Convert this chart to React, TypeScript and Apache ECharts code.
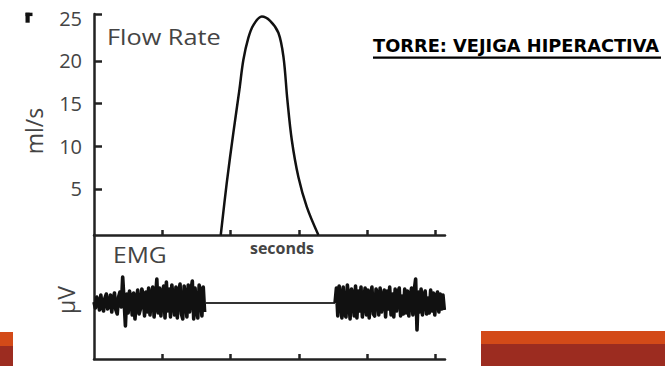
import React, { useEffect, useRef } from "react";
import * as echarts from "echarts";

// Flow rate curve (time in tick units, value in ml/s)
const flowTime = [1.856, 1.944, 2.041, 2.129, 2.187, 2.26, 2.334, 2.457, 2.579, 2.7, 2.774, 2.832, 2.897, 2.993, 3.116, 3.286];
const flowRate = [-0.4, 5.7, 11.6, 16.6, 20.1, 22.7, 24.2, 25.2, 24.7, 23.3, 20.5, 15.4, 10.7, 6.4, 2.9, -0.4];

const flowTickLabels = [5, 10, 15, 20, 25];
const timeTicks = [1, 2, 3, 4, 5];

// EMG samples (µV, relative to baseline), regular sampling
const emgStep = 0.02;
const emgStart1 = 0;
const emgBurst1 = [
  1, -5, 6, 2, -7, 8, -3, -8, 5, 9, -6,
  -2, 8, -9, 4, 10, -7, -11, 6, 11, -4,
  26, 3, -23, 9, -10, 12, 5, -12, 10, -16,
  2, 13, -11, -6, 14, 8, -13, 11, -9, 15,
  -12, 6, 16, -14, 4, 24, -10, 15, -13, 9,
  17, -15, 21, -8, 14, -14, 18, 3, -12, 16,
  -15, 10, 19, -11, -16, 17, 7, -14, 18, -9,
  13, 22, -16, 15, -7, -15, 18, 11, -13, 16, -9,
];
const emgStart2 = 3.53;
const emgBurst2 = [
  0, 15, -13, 17, 6, -15, 16, -11, -14, 18, 4,
  -16, 14, 9, -13, 17, -15, 12, -8, 16, -14,
  3, 15, -12, 13, -15, 8, 16, -11, -13, 14,
  10, -12, 15, -9, 5, 13, -14, 12, -6, 16,
  -12, 9, -14, 14, -8, 11, 15, -13, 7, -11,
  14, -10, 12, -13, 6, 15, -12, 13, 24, -27, 11,
  -9, 14, -12, 8, 12, -11, 5, -10, 13, -8,
  10, -12, 7, 11, -9, 9, -6, 8, -7,
];
const emgQuietTime = [1.64, 3.53];
const emgQuietValue = [0, 0];

const AX = "#222";
const TXT = "#444";

export default function App() {
  const ref = useRef<HTMLDivElement>(null);
  useEffect(() => {
    if (!ref.current) return;
    const chart = echarts.init(ref.current, undefined, { renderer: "svg" });
    const flowData = flowTime.map((t, i) => [t, flowRate[i]]);
    const b1 = emgBurst1.map((v, i) => [emgStart1 + i * emgStep, v]);
    const b2 = emgBurst2.map((v, i) => [emgStart2 + i * emgStep, v]);
    const quiet = emgQuietTime.map((t, i) => [t, emgQuietValue[i]]);
    const xAxisBase = (gi: number) => ({
      type: "value",
      gridIndex: gi,
      min: 0,
      max: 5.14,
      axisLine: { show: true, onZero: false, lineStyle: { color: AX, width: 2.5 } },
      axisTick: { show: true, inside: true, length: 5, customValues: timeTicks, lineStyle: { color: AX, width: 2.5 } },
      axisLabel: { show: false },
      splitLine: { show: false },
    });
    chart.setOption({
      animation: false,
      backgroundColor: "#fff",
      grid: [
        { left: 94, top: 14, width: 351, height: 221 },
        { left: 94, top: 235, width: 351, height: 124 },
      ],
      xAxis: [xAxisBase(0), xAxisBase(1)],
      yAxis: [
        {
          type: "value",
          gridIndex: 0,
          min: -0.4,
          max: 25.5,
          axisLine: { show: true, onZero: false, lineStyle: { color: AX, width: 2.5 } },
          axisTick: { show: true, inside: true, length: 8, customValues: [5, 10, 15, 20, 25.5], lineStyle: { color: AX, width: 2.5 } },
          axisLabel: { customValues: flowTickLabels, color: TXT, fontSize: 20, fontFamily: "Open Sans", margin: 12 },
          splitLine: { show: false },
        },
        {
          type: "value",
          gridIndex: 1,
          min: -56,
          max: 68,
          axisLine: { show: true, onZero: false, lineStyle: { color: AX, width: 2.5 } },
          axisTick: { show: false },
          axisLabel: { show: false },
          splitLine: { show: false },
        },
      ],
      series: [
        {
          type: "line",
          name: "Flow Rate",
          xAxisIndex: 0,
          yAxisIndex: 0,
          data: flowData,
          smooth: 0.35,
          symbol: "none",
          lineStyle: { color: "#111", width: 2.5 },
        },
        {
          type: "line",
          name: "EMG",
          xAxisIndex: 1,
          yAxisIndex: 1,
          data: b1,
          symbol: "none",
          lineStyle: { color: "#111", width: 3.6, join: "round" },
        },
        {
          type: "line",
          name: "EMG quiet",
          xAxisIndex: 1,
          yAxisIndex: 1,
          data: quiet,
          symbol: "none",
          lineStyle: { color: "#333", width: 1.8 },
        },
        {
          type: "line",
          name: "EMG 2",
          xAxisIndex: 1,
          yAxisIndex: 1,
          data: b2,
          symbol: "none",
          lineStyle: { color: "#111", width: 3.6, join: "round" },
        },
      ],
      graphic: [
        { type: "rect", shape: { x: 25.5, y: 12.7, width: 4.2, height: 10 }, style: { fill: "#111" } },
        { type: "rect", shape: { x: 25.5, y: 12.7, width: 7, height: 3.4 }, style: { fill: "#111" } },
        { type: "text", x: 107, y: 37, scaleX: 1.15, style: { text: "Flow Rate", fontSize: 22, fontFamily: "Open Sans", fill: TXT, verticalAlign: "middle" } },
        { type: "text", x: 113, y: 255, scaleX: 1.12, style: { text: "EMG", fontSize: 22, fontFamily: "Open Sans", fill: TXT, verticalAlign: "middle" } },
        { type: "text", x: 282, y: 248, style: { text: "seconds", fontSize: 16, fontWeight: "bold", fontFamily: "Open Sans", fill: TXT, align: "center", verticalAlign: "middle" } },
        { type: "text", x: 33.5, y: 131, rotation: Math.PI / 2, style: { text: "ml/s", fontSize: 23, fontFamily: "Open Sans", fill: TXT, align: "center", verticalAlign: "middle" } },
        { type: "text", x: 66, y: 300, rotation: Math.PI / 2, style: { text: "µV", fontSize: 23, fontFamily: "Open Sans", fill: TXT, align: "center", verticalAlign: "middle" } },
        { type: "text", x: 373, y: 45, style: { text: "TORRE: VEJIGA HIPERACTIVA", fontSize: 17.8, fontWeight: "bold", fontFamily: "DejaVu Sans", fill: "#000", verticalAlign: "middle" } },
        { type: "rect", shape: { x: 373, y: 56.5, width: 288, height: 2.2 }, style: { fill: "#000" } },
        { type: "rect", shape: { x: 0, y: 332, width: 13, height: 14 }, style: { fill: "#D34A18" } },
        { type: "rect", shape: { x: 0, y: 346, width: 13, height: 20 }, style: { fill: "#9C2C20" } },
        { type: "rect", shape: { x: 481, y: 331, width: 184, height: 13 }, style: { fill: "#D34A18" } },
        { type: "rect", shape: { x: 481, y: 344, width: 184, height: 22 }, style: { fill: "#9C2C20" } },
      ],
    });
    return () => chart.dispose();
  }, []);
  return <div ref={ref} style={{ position: "absolute", left: 0, top: 0, width: 665, height: 366 }} />;
}
